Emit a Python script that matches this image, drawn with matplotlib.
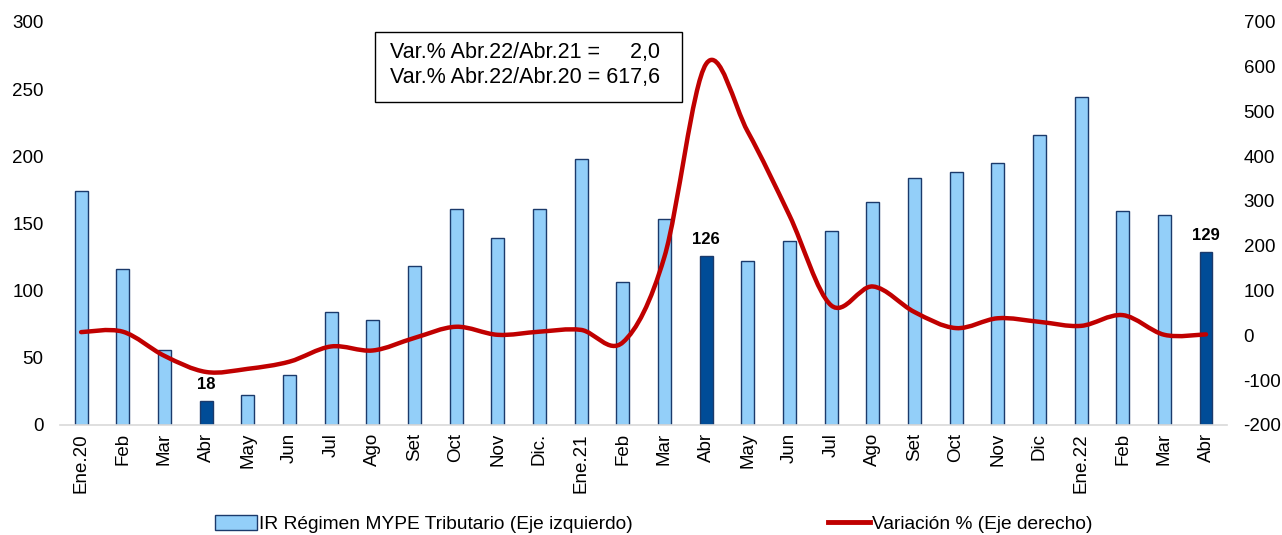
"""IR Régimen MYPE Tributario: monthly collection and yoy variation."""

import matplotlib

matplotlib.use("Agg")
import matplotlib.pyplot as plt
import numpy as np
from matplotlib.lines import Line2D
from matplotlib.patches import Patch, PathPatch, Rectangle
from matplotlib.path import Path

plt.rcParams["font.family"] = ["Liberation Sans", "DejaVu Sans"]
plt.rcParams["axes.unicode_minus"] = False

months = [
    "Ene.20", "Feb", "Mar", "Abr", "May", "Jun", "Jul", "Ago", "Set", "Oct", "Nov", "Dic.",
    "Ene.21", "Feb", "Mar", "Abr", "May", "Jun", "Jul", "Ago", "Set", "Oct", "Nov", "Dic",
    "Ene.22", "Feb", "Mar", "Abr",
]
ir_mype = [
    174, 116, 56, 18, 22, 37, 84, 78, 118, 161, 139, 161,
    198, 106, 153, 126, 122, 137, 144, 166, 184, 188, 195, 216,
    244, 159, 156, 129,
]
variacion = [
    7, 8, -46, -82, -75, -59, -25, -34, -6, 19, 1, 8,
    12, -16, 175, 606, 455, 268, 67, 109, 52, 16, 38, 30,
    21, 45, 1, 2,
]
labelled = [3, 15, 27]
note_lines = ["Var.% Abr.22/Abr.21 =     2,0", "Var.% Abr.22/Abr.20 = 617,6"]

LIGHT = "#93CFF9"
DARK = "#004C97"
EDGE = "#1B3A6B"
RED = "#C00000"


def smooth_path(xs, ys):
    """Bezier path through the points, like a spreadsheet 'smoothed line'."""
    pts = np.column_stack([xs, ys]).astype(float)
    padded = np.vstack([pts[0], pts, pts[-1]])
    verts = [pts[0]]
    codes = [Path.MOVETO]
    for i in range(len(pts) - 1):
        p0, p1, p2, p3 = padded[i], padded[i + 1], padded[i + 2], padded[i + 3]
        c1 = p1 + (p2 - p0) / 6.0
        c2 = p2 - (p3 - p1) / 6.0
        verts += [c1, c2, p2]
        codes += [Path.CURVE4] * 3
    return Path(verts, codes)


figure = plt.figure(figsize=(12.82, 5.35), dpi=100)
axis = figure.add_axes([0.047, 0.206, 0.910, 0.753])
axis2 = axis.twinx()

x = np.arange(len(months))
colors = [DARK if i in labelled else LIGHT for i in range(len(months))]
axis.bar(x, ir_mype, width=0.31, color=colors, edgecolor=EDGE, linewidth=1.0, zorder=2)
for i in labelled:
    axis.annotate(
        f"{ir_mype[i]}", (x[i], ir_mype[i]), xytext=(0, 6), textcoords="offset points",
        ha="center", va="bottom", fontsize=12, fontweight="bold",
    )

axis.set_xlim(-0.5, len(months) - 0.5)
axis.set_ylim(0, 300)
axis.set_yticks(np.arange(0, 301, 50))
axis.set_xticks(x)
axis.set_xticklabels(months, rotation=90)
axis.tick_params(axis="x", length=0, pad=6, labelsize=13.5)
axis.tick_params(axis="y", length=0, pad=12, labelsize=13.5)

axis2.add_patch(PathPatch(smooth_path(x, variacion), facecolor="none", edgecolor=RED,
                          linewidth=3.2, capstyle="round", zorder=3))
axis2.set_ylim(-200, 700)
axis2.set_yticks(np.arange(-200, 701, 100))
axis2.tick_params(axis="y", length=0, pad=12, labelsize=13.5)
axis2.set_zorder(axis.get_zorder() + 1)
axis2.patch.set_visible(False)

for ax in (axis, axis2):
    for side in ("top", "left", "right", "bottom"):
        ax.spines[side].set_visible(False)
axis.spines["bottom"].set_visible(True)
axis.spines["bottom"].set_color("#D9D9D9")
axis.spines["bottom"].set_linewidth(1.2)

# annotation box
figure.patches.append(Rectangle((375 / 1282, 1 - 102 / 535), 307 / 1282, 70 / 535,
                                transform=figure.transFigure, facecolor="white",
                                edgecolor="black", linewidth=1.0, zorder=5))
figure.text(390 / 1282, 1 - 52 / 535, note_lines[0], fontsize=15.5, va="center", zorder=6)
figure.text(390 / 1282, 1 - 78 / 535, note_lines[1], fontsize=15.5, va="center", zorder=6)

handles = [
    Patch(facecolor=LIGHT, edgecolor=EDGE, linewidth=1.0),
    Line2D([0], [0], color=RED, linewidth=3.5),
]
figure.legend(
    handles,
    ["IR Régimen MYPE Tributario (Eje izquierdo)", "Variación % (Eje derecho)"],
    loc="center", bbox_to_anchor=(0.51, 1 - 524 / 535), ncol=2, frameon=False,
    fontsize=13.8, handlelength=2.2, handleheight=0.8, handletextpad=0.1, columnspacing=10.2,
)

figure.savefig("out.png", dpi=100)
plt.close(figure)
